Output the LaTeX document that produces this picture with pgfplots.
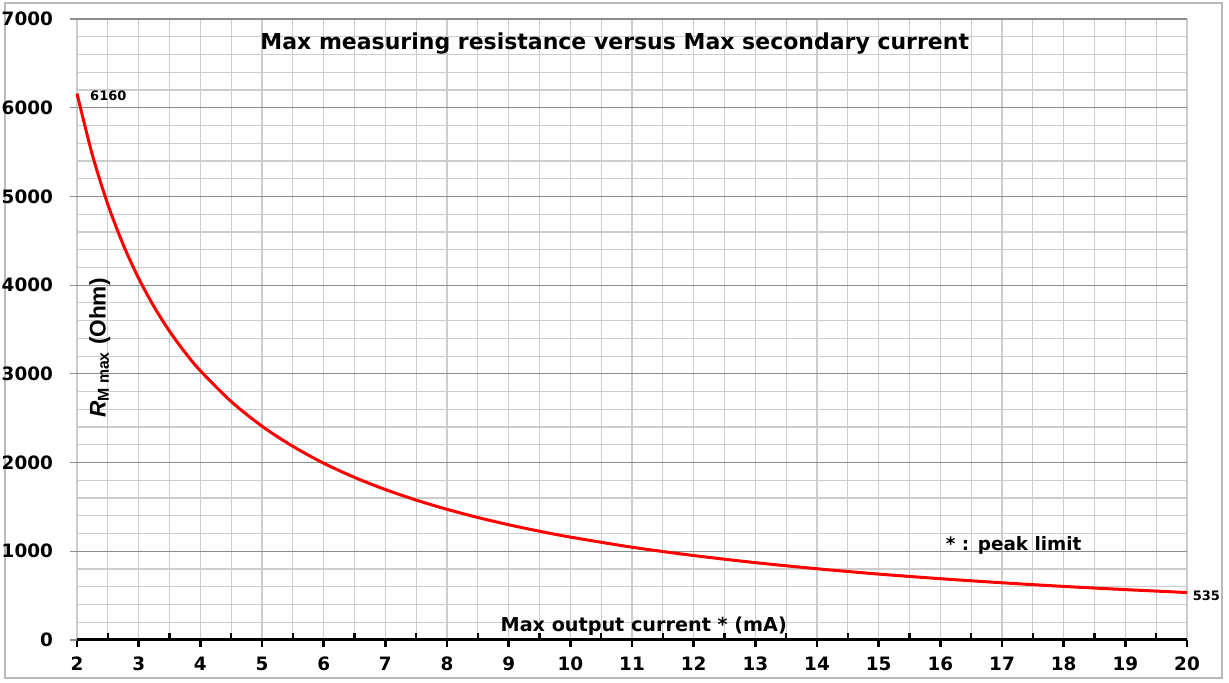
\documentclass[border=0pt]{standalone}
\usepackage{pgfplots}
\pgfplotsset{compat=1.18}
\usepackage{fontspec}
\setmainfont{DejaVu Sans}
\newfontfamily\arialfont{Liberation Sans}
\begin{document}
\begin{tikzpicture}
\draw[gray!55, line width=0.8pt] (2.5pt,2.5pt) rectangle (611pt,340pt);
\begin{axis}[
  at={(38.5pt,21.5pt)}, anchor=south west,
  scale only axis, width=555pt, height=310.5pt,
  xmin=2, xmax=20, ymin=0, ymax=7000,
  xtick={2,...,20}, minor xtick={2.5,3.5,...,19.5},
  ytick={0,1000,...,7000}, minor ytick={200,400,...,6800},
  xtick pos=bottom, ytick pos=left,
  tick align=outside,
  major tick length=3.5pt,
  axis line style={draw=none},
  xmajorgrids, xminorgrids, ymajorgrids, yminorgrids,
  major x grid style={gray!40, line width=0.6pt},
  minor x grid style={gray!40, line width=0.6pt},
  major y grid style={gray!90, line width=0.6pt},
  minor y grid style={gray!40, line width=0.6pt},
  major x tick style={black, line width=1.2pt},
  minor x tick style={black, line width=1.2pt, yshift=3.5pt},
  minor tick length=3.5pt,
  major y tick style={gray!90, line width=0.6pt},
  minor y tick style={draw=none},
  /pgf/number format/assume math mode=true,
  /pgf/number format/set thousands separator={},
  tick label style={font=\bfseries\fontsize{9.2}{11}\selectfont},
  x tick label style={yshift=-1.5pt},
  y tick label style={xshift=-5pt},
  clip=false,
]
\addplot[red, line width=1.5pt, smooth] coordinates {
(2,6160) (2.25,5466) (2.5,4910) (2.75,4455) (3,4077) (3.25,3756) (3.5,3481)
(3.75,3243) (4,3035) (4.5,2688) (5,2410) (5.5,2183) (6,1993) (6.5,1833)
(7,1696) (7.5,1577) (8,1473) (8.5,1381) (9,1299) (9.5,1226) (10,1160)
(11,1046) (12,952) (13,872) (14,803) (15,743) (16,691) (17,645) (18,604)
(19,568) (20,535)
};
\draw[black, line width=1.5pt] (rel axis cs:0,0) -- (rel axis cs:1,0);
\node[font=\bfseries\fontsize{11}{13}\selectfont] at (axis cs:10.72,6720) {Max measuring resistance versus Max secondary current};
\node[font=\bfseries\fontsize{9.2}{11}\selectfont] at (axis cs:17.19,1071) {* : peak limit};
\node[font=\bfseries\fontsize{9.6}{11}\selectfont] at (axis cs:11.19,158) {Max output current * (mA)};
\node[font=\bfseries\fontsize{6.5}{8}\selectfont, anchor=west] at (axis cs:2.1,6132) {6160};
\node[font=\bfseries\fontsize{6.5}{8}\selectfont, anchor=west] at (axis cs:19.98,500) {535};
\node[font=\arialfont\bfseries\fontsize{11.3}{13}\selectfont, rotate=90] at (axis cs:2.37,3290) {\textit{R}\textsubscript{M max} (Ohm)};
\end{axis}
\pgfresetboundingbox
\useasboundingbox (0,0) rectangle (614.5pt,341.5pt);
\end{tikzpicture}
\end{document}
